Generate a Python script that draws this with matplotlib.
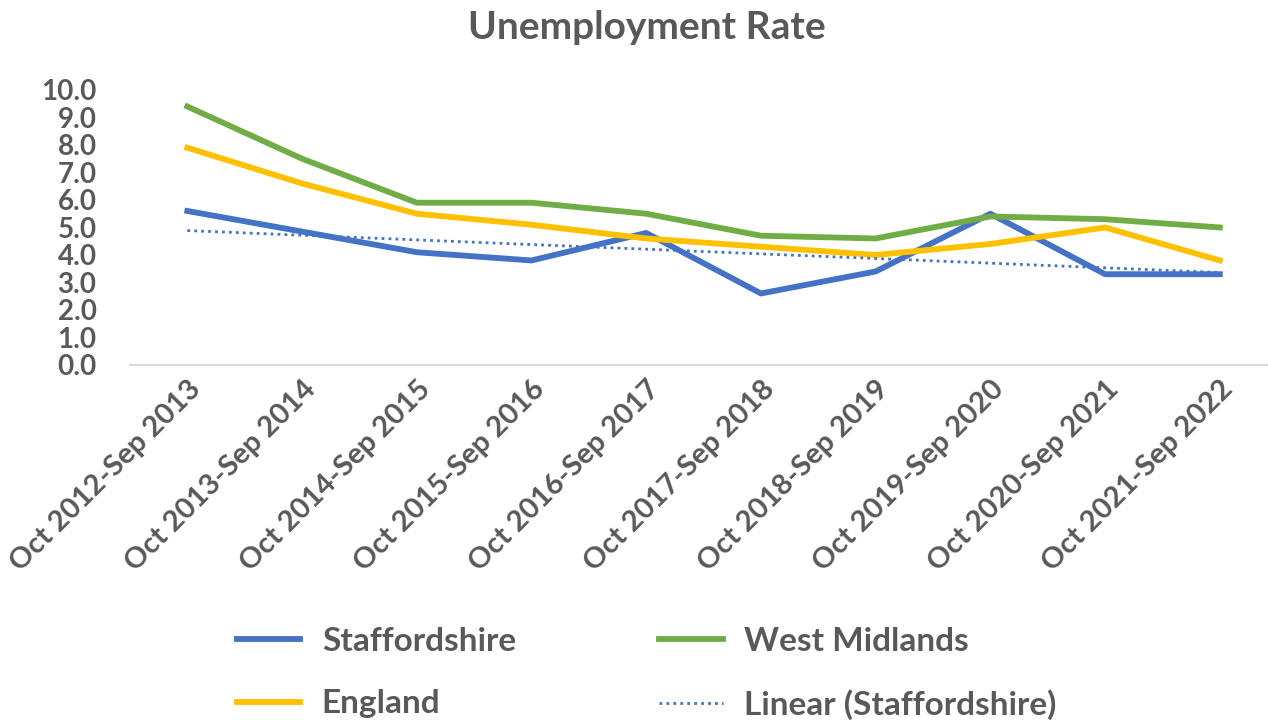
import numpy as np
import matplotlib.pyplot as plt

# data
periods = ['Oct 2012-Sep 2013', 'Oct 2013-Sep 2014', 'Oct 2014-Sep 2015', 'Oct 2015-Sep 2016',
           'Oct 2016-Sep 2017', 'Oct 2017-Sep 2018', 'Oct 2018-Sep 2019', 'Oct 2019-Sep 2020',
           'Oct 2020-Sep 2021', 'Oct 2021-Sep 2022']
staffordshire = [5.6, 4.85, 4.1, 3.8, 4.8, 2.6, 3.4, 5.5, 3.3, 3.3]
west_midlands = [9.4, 7.5, 5.9, 5.9, 5.5, 4.7, 4.6, 5.4, 5.3, 5.0]
england = [7.9, 6.6, 5.5, 5.1, 4.6, 4.3, 4.0, 4.4, 5.0, 3.8]

GREY = '#595959'
plt.rcParams['font.family'] = ['Lato', 'DejaVu Sans']

fig = plt.figure(figsize=[12.68, 7.25], dpi=100)
ax = fig.add_axes([0.1025, 0.4966, 0.8975, 0.3793])

x = np.arange(len(periods))
ax.plot(x, staffordshire, color='#4472C4', lw=4.2, label='Staffordshire', solid_joinstyle='round')
ax.plot(x, west_midlands, color='#70AD47', lw=4.2, label='West Midlands', solid_joinstyle='round')
ax.plot(x, england, color='#FFC000', lw=4.2, label='England', solid_joinstyle='round')

# linear trend of Staffordshire
coef = np.polyfit(x, staffordshire, 1)
ax.plot(x, np.polyval(coef, x), color='#4472C4', lw=2.0, ls=(0, (1, 1.5)), label='Linear (Staffordshire)')

ax.set_xlim(-0.5, 9.42)
ax.set_ylim(0, 10)
ax.set_yticks(np.arange(0, 10.1, 1))
ax.set_yticklabels(['%.1f' % v for v in np.arange(0, 10.1, 1)])
ax.set_xticks(x)
ax.set_xticklabels(periods, rotation=45, ha='right', rotation_mode='anchor')

for s in ['top', 'right', 'left']:
    ax.spines[s].set_visible(False)
ax.spines['bottom'].set_color('#D9D9D9')
ax.spines['bottom'].set_linewidth(1.5)
ax.tick_params(axis='both', length=0, colors=GREY)
ax.tick_params(axis='x', labelsize=21, pad=8)
ax.tick_params(axis='y', labelsize=20, pad=24)
for lab in ax.get_xticklabels() + ax.get_yticklabels():
    lab.set_fontweight('bold')

fig.text(0.51, 0.962, 'Unemployment Rate', ha='center', va='center', fontsize=28,
         fontweight='bold', color=GREY)

h, l = ax.get_legend_handles_labels()
order = [0, 2, 1, 3]
leg = fig.legend([h[i] for i in order], [l[i] for i in order], ncol=2, loc='center',
                 bbox_to_anchor=(0.51, 0.071), frameon=False, fontsize=24,
                 handlelength=1.9, columnspacing=4.3, labelspacing=1.0, handletextpad=0.65)
for t in leg.get_texts():
    t.set_color(GREY)
    t.set_fontweight('bold')

plt.savefig('out.png', dpi=100)
